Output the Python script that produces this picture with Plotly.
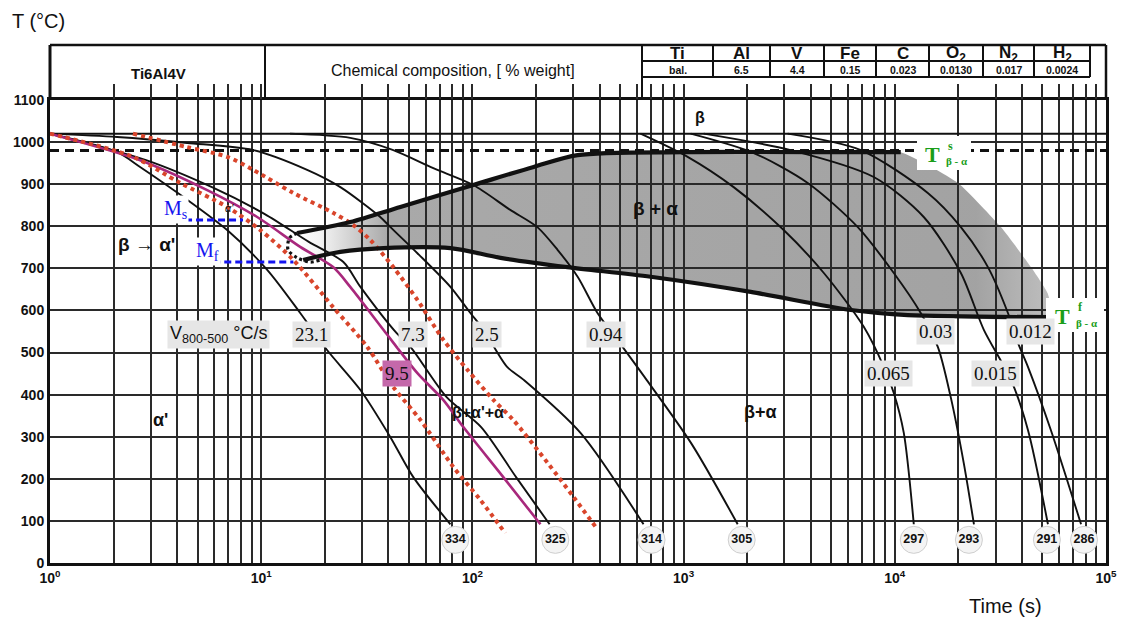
import plotly.graph_objects as go

# ---------------- cooling curves: time [s] / temperature [°C] ----------------
v231_t = [1, 2.08, 2.67, 4.27, 6.9, 10.7, 15.3, 20.5, 29.5, 40.9, 52.5, 78.7]
v231_T = [1020, 976, 941, 870, 791, 696, 594, 506, 411, 299, 204, 92]

red1_t = [1, 2.47, 4.13, 6.9, 9.9, 14.2, 21.9, 31.8, 42.2, 56.7, 81.3, 109, 143]
red1_T = [1020, 965, 903, 846, 791, 720, 608, 513, 418, 340, 228, 150, 71]

v95_t = [1, 2.67, 5.55, 9.57, 15.3, 21.9, 26.4, 37.9, 54.9, 72.9, 90.6, 140, 210]
v95_T = [1020, 957, 886, 822, 751, 703, 656, 554, 451, 387, 323, 204, 92]

v73_t = [1, 2.85, 5.95, 10.4, 16.8, 24.5, 29.5, 43.8, 51.0, 75.5, 110, 161, 232]
v73_T = [1020, 957, 891, 829, 763, 715, 656, 546, 513, 394, 323, 204, 92]

red2_t = [2.47, 4.46, 6.9, 9.17, 14.2, 21.9, 27.3, 32.9, 42.2, 54.9, 72.9, 94.7,
          126, 156, 227, 301, 383]
red2_T = [1020, 988, 965, 934, 879, 832, 803, 767, 703, 625, 530, 459,
          387, 340, 238, 157, 86]

v25_t = [1, 2.08, 4.46, 9.17, 16.5, 23.7, 36.6, 40.9, 54.9, 78.7, 97.8, 113,
         146, 175, 325, 646]
v25_T = [1020, 1012, 998, 981, 934, 893, 822, 798, 736, 656, 594, 554,
         466, 435, 309, 92]

v094_t = [13.7, 26.4, 42.2, 65.3, 101, 151, 203, 253, 315, 391, 486, 668, 1091, 1803]
v094_T = [1020, 1010, 981, 938, 898, 839, 798, 744, 680, 594, 530, 435, 283, 92]

v0065_t = [625, 1045, 1726, 2978, 4613, 7130, 8870, 9890, 11030, 12300]
v0065_T = [1020, 965, 893, 791, 689, 561, 466, 404, 309, 92]

v003_t = [1080, 2148, 3870, 6680, 9890, 13270, 16000, 18400, 21200, 23700]
v003_T = [1020, 974, 903, 798, 689, 594, 513, 394, 238, 92]

v0015_t = [1245, 3210, 7950, 13710, 20550, 26400, 35500, 42700, 53100]
v0015_T = [1020, 981, 917, 822, 689, 554, 435, 316, 92]

v0012_t = [3110, 6900, 14330, 20550, 27600, 34330, 38300, 42700, 54800, 76200]
v0012_T = [1020, 981, 879, 798, 703, 594, 523, 466, 316, 92]

# ---------------- transformation boundaries ----------------
start_t = [14.8, 26.4, 45.6, 101, 195, 315, 1000, 6190, 10670]
start_T = [784, 810, 846, 898, 941, 969, 976, 976, 976]

finish_t = [15.8, 23.7, 37.9, 78.7, 136, 282, 698, 2080, 6190, 11530, 54800]
finish_T = [720, 739, 748, 748, 725, 703, 680, 644, 601, 589, 584]

edge_t = [10670, 19900, 31800, 44100, 53000]
edge_T = [974, 903, 798, 703, 640]

nose_t = [14.8, 13.6, 13.4, 14.8, 17.1, 19.0]
nose_T = [784, 772, 744, 725, 715, 720]

ms_t, ms_T = [4.36, 8.2], [815, 815]
mf_t, mf_T = [5.93, 14.2], [715, 715]

t_heat, T_beta_s = [1, 1e5], 1020
T_beta_alpha = 980

# ---------------- hardness (HV) at the end of each curve ----------------
hv_t = [83, 247, 705, 1884, 12300, 22430, 52500, 78700]
hv = [334, 325, 314, 305, 297, 293, 291, 286]
hv_T = 55

# ---------------- composition table ----------------
elements = ["Ti", "Al", "V", "Fe", "C", "O<sub>2</sub>", "N<sub>2</sub>", "H<sub>2</sub>"]
contents = ["bal.", "6.5", "4.4", "0.15", "0.023", "0.0130", "0.017", "0.0024"]

x_decades = [1, 10, 100, 1000, 10000, 100000]
x_labels = ["10<sup>0</sup>", "10<sup>1</sup>", "10<sup>2</sup>",
            "10<sup>3</sup>", "10<sup>4</sup>", "10<sup>5</sup>"]
x_minor = [m * 10 ** d for d in range(5) for m in range(2, 10)]
y_ticks = list(range(0, 1101, 100))

# ---------------- page geometry (pixels) ----------------
W, H = 1132, 623
L, R, TOP, BOT = 50, 1106, 100, 563


def px(p):
    return (p - L) / (R - L)


def py(p):
    return (BOT - p) / (BOT - TOP)


SANS = "Liberation Sans, Arial, sans-serif"
SERIF = "Liberation Serif, Times New Roman, serif"
BLACK = "#111111"
GRID = "#2a2a2a"
RED = "#d9452b"
MAGENTA = "#a8287c"
BLUE = "#1414f0"
GREEN = "#1a9e1a"

fig = go.Figure()

# shaded beta + alpha field, fading in from the left
poly_t = start_t + edge_t[1:] + finish_t[::-1]
poly_T = start_T + edge_T[1:] + finish_T[::-1]
fig.add_trace(go.Scatter(
    x=poly_t, y=poly_T, mode="lines", fill="toself",
    fillcolor="rgba(40,40,40,0.43)",
    fillgradient=dict(type="horizontal",
                      colorscale=[[0.0, "rgba(40,40,40,0)"],
                                  [0.03, "rgba(40,40,40,0.05)"],
                                  [0.12, "rgba(40,40,40,0.40)"],
                                  [0.9, "rgba(40,40,40,0.43)"],
                                  [1.0, "rgba(40,40,40,0.30)"]]),
    line=dict(width=0, shape="spline", smoothing=0.5),
    hoverinfo="skip", showlegend=False))

# reference temperature lines
fig.add_trace(go.Scatter(x=t_heat, y=[T_beta_s] * 2, mode="lines",
                         line=dict(color=BLACK, width=2), showlegend=False))
fig.add_trace(go.Scatter(x=t_heat, y=[T_beta_alpha] * 2, mode="lines",
                         line=dict(color=BLACK, width=3, dash="9px,6px"),
                         showlegend=False))


def curve(t, T, color=BLACK, width=1.9, dash=None):
    fig.add_trace(go.Scatter(x=t, y=T, mode="lines",
                             line=dict(color=color, width=width, dash=dash,
                                       shape="spline", smoothing=0.8),
                             hoverinfo="skip", showlegend=False))


for t, T in [(v231_t, v231_T), (v73_t, v73_T), (v25_t, v25_T), (v094_t, v094_T),
             (v0065_t, v0065_T), (v003_t, v003_T), (v0015_t, v0015_T),
             (v0012_t, v0012_T)]:
    curve(t, T)
curve(v95_t, v95_T, color=MAGENTA, width=2.6)
curve(red1_t, red1_T, color=RED, width=4, dash="4px,4px")
curve(red2_t, red2_T, color=RED, width=4, dash="4px,4px")

# start / finish of beta -> alpha
curve(start_t, start_T, width=4.2)
curve(finish_t, finish_T, width=4.2)
curve(nose_t, nose_T, width=3.2, dash="3px,3px")

# martensite start / finish
fig.add_trace(go.Scatter(x=ms_t, y=ms_T, mode="lines",
                         line=dict(color=BLUE, width=3, dash="7px,4px"), showlegend=False))
fig.add_trace(go.Scatter(x=mf_t, y=mf_T, mode="lines",
                         line=dict(color=BLUE, width=3, dash="7px,4px"), showlegend=False))

# hardness circles
fig.add_trace(go.Scatter(x=hv_t, y=[hv_T] * len(hv), mode="markers+text",
                         marker=dict(size=27, color="#f4f4f4",
                                     line=dict(color="#cfcfcf", width=1)),
                         text=[f"<b>{v}</b>" for v in hv], textposition="middle center",
                         textfont=dict(family=SANS, size=12.5, color=BLACK),
                         hoverinfo="skip", showlegend=False))

# helper trace for the top tick axis
fig.add_trace(go.Scatter(x=[1, 1e5], y=[0, 0], xaxis="x2", mode="lines",
                         line=dict(width=0), hoverinfo="skip", showlegend=False))

fig.update_layout(
    width=W, height=H,
    margin=dict(l=L, r=W - R, t=TOP, b=H - BOT),
    paper_bgcolor="white", plot_bgcolor="white",
    xaxis=dict(type="log", range=[0, 5], tickmode="array", tickvals=x_decades,
               ticktext=x_labels,
               showgrid=True, gridcolor=GRID, gridwidth=1.5,
               minor=dict(tickmode="array", tickvals=x_minor, showgrid=True,
                          gridcolor=GRID, gridwidth=1.5, ticks=""),
               showline=True, linecolor=BLACK, linewidth=3, mirror=True,
               ticks="", zeroline=False,
               tickfont=dict(family=SANS, size=14, color=BLACK, weight="bold")),
    xaxis2=dict(type="log", range=[0, 5], overlaying="x", side="top", anchor="y",
                tickmode="array", tickvals=x_decades, showticklabels=False,
                ticks="outside", ticklen=15, tickwidth=1.5, tickcolor=GRID,
                minor=dict(tickmode="array", tickvals=x_minor, ticks="outside",
                           ticklen=15, tickwidth=1.5, tickcolor=GRID, showgrid=False),
                showgrid=False, showline=False, zeroline=False),
    yaxis=dict(range=[0, 1100], tickvals=y_ticks, showgrid=True,
               gridcolor=GRID, gridwidth=1.5, showline=True, linecolor=BLACK,
               linewidth=3, mirror=True, ticks="", zeroline=False,
               tickfont=dict(family=SANS, size=14, color=BLACK, weight="bold")),
)

shapes = []


def seg(x0, y0, x1, y1, w=2):
    shapes.append(dict(type="line", xref="paper", yref="paper",
                       x0=px(x0), y0=py(y0), x1=px(x1), y1=py(y1),
                       line=dict(color=BLACK, width=w)))


# composition table frame
seg(L, 45, R, 45, 2.5)
seg(L, 45, L, TOP, 3)
seg(R, 45, R, TOP, 2.5)
seg(265, 45, 265, TOP, 2)
seg(642, 45, 642, TOP, 2)
col_edges = [642, 713, 770, 824, 876, 929, 983, 1034, 1090]
for c in col_edges[1:]:
    seg(c, 45, c, 77, 2)
seg(642, 61, 1090, 61, 1.8)
seg(642, 77, 1090, 77, 1.8)

# white boxes behind the beta-transus labels
for x0, y0, x1, y1 in [(917, 136, 971, 170), (1046, 298, 1104, 332)]:
    shapes.append(dict(type="rect", xref="paper", yref="paper",
                       x0=px(x0), y0=py(y0), x1=px(x1), y1=py(y1),
                       fillcolor="white", line=dict(width=0), layer="above"))
fig.update_layout(shapes=shapes)

ann = []


def label(text, x, y, size=16, family=SANS, color=BLACK, bg=None, xanchor="center",
          pad=1):
    ann.append(dict(text=text, x=px(x), y=py(y), xref="paper", yref="paper",
                    showarrow=False, xanchor=xanchor, yanchor="middle",
                    font=dict(family=family, size=size, color=color),
                    bgcolor=bg, borderpad=pad))


# table text
label("<b>Ti6Al4V</b>", 158, 73, 15)
label("Chemical composition, [ % weight]", 453, 71, 16)
for i, (el, val) in enumerate(zip(elements, contents)):
    cx = (col_edges[i] + col_edges[i + 1]) / 2
    label(f"<b>{el}</b>", cx, 53.5, 17)
    label(f"<b>{val}</b>", cx, 69.5, 10.5)

# axis titles
label("T (°C)", 10, 21, 20, xanchor="left")
label("Time (s)", 1005, 606, 20)

# phase fields
label("<b>β</b>", 700, 117, 16)
label("<b>β + α</b>", 655, 208, 19)
label("<b>β → α'</b>", 146, 245, 19)
label("<b>α'</b>", 160, 420, 18)
label("<b>β+α'+α</b>", 478, 412, 16)
label("<b>β+α</b>", 760, 412, 18)
label("<i>α'</i>", 229, 208, 11)

# martensite labels
label("M<sub>s</sub>", 175, 209, 20, SERIF, BLUE, bg="white")
label("M<sub>f</sub>", 207, 251, 20, SERIF, BLUE, bg="white")

# cooling rates
GRAY = "#e6e6e6"
label("V<sub>800-500</sub> °C/s", 218, 334, 18, SANS, bg=GRAY, pad=2)
for txt, x, y, bg in [("23.1", 311, 334, GRAY), ("7.3", 413, 334, GRAY),
                      ("9.5", 397, 374, "#c468aa"), ("2.5", 487, 334, GRAY),
                      ("0.94", 606, 334, GRAY), ("0.065", 888, 373, GRAY),
                      ("0.03", 935, 331, GRAY), ("0.015", 995, 373, GRAY),
                      ("0.012", 1030, 331, GRAY)]:
    label(txt, x, y, 19, SERIF, bg=bg, pad=2)

# beta transus start / finish
label("<b>T</b>", 932, 154, 22, SERIF, GREEN)
label("<b>s</b>", 946, 146, 12, SERIF, GREEN, xanchor="left")
label("<b>β - α</b>", 944, 161, 11, SERIF, GREEN, xanchor="left")
label("<b>T</b>", 1062, 316, 22, SERIF, GREEN)
label("<b>f</b>", 1076, 307, 12, SERIF, GREEN, xanchor="left")
label("<b>β - α</b>", 1074, 323, 11, SERIF, GREEN, xanchor="left")

fig.update_layout(annotations=ann)

fig.write_html("out.html")
